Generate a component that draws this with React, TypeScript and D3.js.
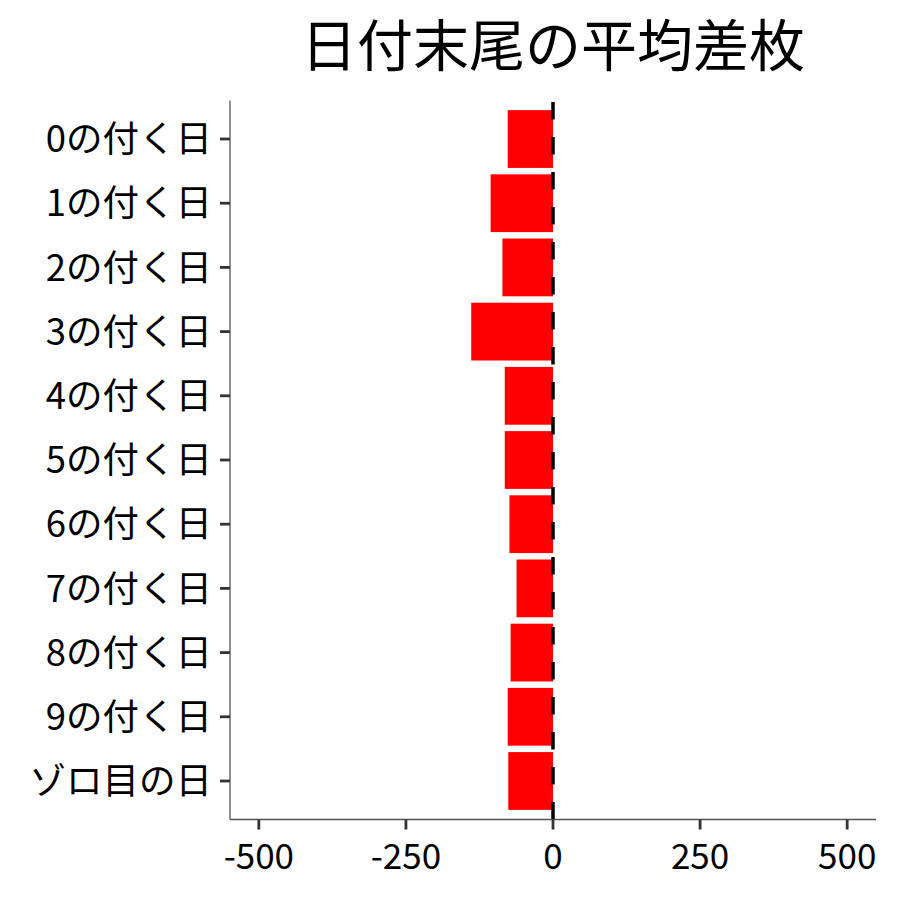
import { useEffect } from 'react';
import * as d3 from 'd3';

const categories = [
  '0の付く日',
  '1の付く日',
  '2の付く日',
  '3の付く日',
  '4の付く日',
  '5の付く日',
  '6の付く日',
  '7の付く日',
  '8の付く日',
  '9の付く日',
  'ゾロ目の日',
];
const averageDiff = [-77, -106, -86, -139, -82, -82, -74, -62, -72, -77, -76];
const xTicks = [-500, -250, 0, 250, 500];
const title = '日付末尾の平均差枚';

const width = 900;
const height = 900;
const margin = { top: 100.5, right: 24, bottom: 80.5, left: 230 };
const font = '"Noto Sans CJK JP", "Noto Sans", sans-serif';

export default function App() {
  useEffect(() => {
    document.body.style.margin = '0';
  }, []);

  const innerW = width - margin.left - margin.right;
  const innerH = height - margin.top - margin.bottom;

  const x = d3.scaleLinear().domain([-549, 549]).range([0, innerW]);

  // ggplot-style discrete expansion: 0.6 units each side, bar width 0.9
  const n = categories.length;
  const unit = innerH / (n - 1 + 1.2);
  const yCenter = d3
    .scalePoint<string>()
    .domain(categories)
    .range([0.6 * unit, innerH - 0.6 * unit]);
  const barH = unit * 0.9;

  const data = categories.map((c, i) => ({ key: c, value: averageDiff[i] }));

  return (
    <svg width={width} height={height} style={{ display: 'block', fontFamily: font }}>
      <rect width={width} height={height} fill="#ffffff" />
      <text
        x={margin.left + innerW / 2}
        y={66}
        textAnchor="middle"
        fontSize={56}
        fill="#000"
      >
        {title}
      </text>
      <g transform={`translate(${margin.left},${margin.top})`}>
        {data.map((d) => (
          <rect
            key={d.key}
            x={x(Math.min(0, d.value))}
            y={(yCenter(d.key) ?? 0) - barH / 2}
            width={Math.abs(x(d.value) - x(0))}
            height={barH}
            fill="#ff0000"
          />
        ))}
        {/* zero reference line, dashes start from the bottom */}
        <line
          x1={x(0)}
          x2={x(0)}
          y1={innerH}
          y2={0}
          stroke="#000"
          strokeWidth={3.5}
          strokeDasharray="17.5 17.5"
        />
        {/* axes */}
        <line x1={0} x2={0} y1={0} y2={innerH} stroke="#555" strokeWidth={1.3} />
        <line x1={0} x2={innerW} y1={innerH} y2={innerH} stroke="#555" strokeWidth={1.3} />
        {categories.map((c) => (
          <g key={c} transform={`translate(0,${yCenter(c)})`}>
            <line x1={-10} x2={0} stroke="#333" strokeWidth={2.8} />
            <text x={-18} dy="0.36em" textAnchor="end" fontSize={36.5} fill="#000">
              {c}
            </text>
          </g>
        ))}
        {xTicks.map((t) => (
          <g key={t} transform={`translate(${x(t)},${innerH})`}>
            <line y1={0} y2={10} stroke="#333" strokeWidth={2.8} />
            <text y={49} textAnchor="middle" fontSize={35} fill="#000">
              {t}
            </text>
          </g>
        ))}
      </g>
    </svg>
  );
}
